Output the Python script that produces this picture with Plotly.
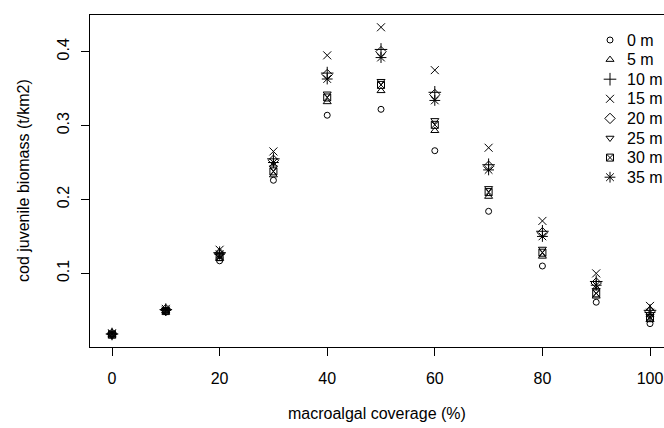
import plotly.graph_objects as go

coverage = [0, 10, 20, 30, 40, 50, 60, 70, 80, 90, 100]
depth_labels = ["0 m", "5 m", "10 m", "15 m", "20 m", "25 m", "30 m", "35 m"]

b_0m  = [0.017, 0.048, 0.117, 0.226, 0.314, 0.322, 0.266, 0.184, 0.110, 0.061, 0.032]
b_5m  = [0.017, 0.049, 0.120, 0.233, 0.332, 0.347, 0.293, 0.204, 0.123, 0.069, 0.037]
b_10m = [0.018, 0.051, 0.128, 0.255, 0.371, 0.403, 0.345, 0.247, 0.157, 0.089, 0.050]
b_15m = [0.019, 0.052, 0.132, 0.265, 0.395, 0.433, 0.375, 0.270, 0.171, 0.100, 0.056]
b_20m = [0.018, 0.051, 0.127, 0.253, 0.369, 0.400, 0.342, 0.245, 0.155, 0.087, 0.048]
b_25m = [0.018, 0.050, 0.124, 0.243, 0.343, 0.360, 0.307, 0.215, 0.133, 0.077, 0.042]
b_30m = [0.017, 0.049, 0.122, 0.238, 0.338, 0.355, 0.301, 0.210, 0.128, 0.073, 0.040]
b_35m = [0.018, 0.050, 0.126, 0.250, 0.363, 0.392, 0.334, 0.240, 0.150, 0.084, 0.047]

series = [b_0m, b_5m, b_10m, b_15m, b_20m, b_25m, b_30m, b_35m]
symbols = ["circle-open", "triangle-up-open", "cross-thin-open", "x-thin-open",
           "diamond-open", "triangle-down-open", "square-x-open", "asterisk-open"]
sizes = [6, 7, 9, 8, 8, 7, 7, 9]

W, H = 664, 428
L, T, B = 90, 15, 81
PW, PH = W - L, H - T - B

# legend layout (pixel coordinates on an overlay axis)
LEG_SYM_X, LEG_TXT_X, LEG_Y0, LEG_DY = 610, 625, 40, 19.6

font = dict(family="Liberation Sans, Arial, sans-serif", size=16, color="black")

fig = go.Figure()
annotations = []
for i, (name, vals, sym, sz) in enumerate(zip(depth_labels, series, symbols, sizes)):
    mk = dict(symbol=sym, size=sz, color="black", line=dict(color="black", width=1))
    fig.add_trace(go.Scatter(x=coverage, y=vals, mode="markers", name=name,
                             marker=mk, showlegend=False))
    ly = LEG_Y0 + LEG_DY * i
    fig.add_trace(go.Scatter(x=[LEG_SYM_X], y=[ly], mode="markers", name=name,
                             marker=mk, showlegend=False, hoverinfo="skip",
                             xaxis="x2", yaxis="y2", cliponaxis=False))
    annotations.append(dict(text=name, xref="x2", yref="y2", x=LEG_TXT_X, y=ly,
                            xanchor="left", yanchor="middle", showarrow=False,
                            font=font))

annotations += [
    dict(text="macroalgal coverage (%)", xref="paper", yref="paper",
         x=(377 - L) / PW, y=-(413 - (T + PH)) / PH, showarrow=False,
         xanchor="center", yanchor="middle", font=font),
    dict(text="cod juvenile biomass (t/km2)", xref="paper", yref="paper",
         x=-(L - 23) / PW, y=0.5, showarrow=False, textangle=-90,
         xanchor="center", yanchor="middle", font=font),
]

fig.update_layout(
    width=W, height=H,
    margin=dict(l=L, r=0, t=T, b=B),
    paper_bgcolor="white", plot_bgcolor="white",
    font=font,
    showlegend=False,
    xaxis=dict(range=[-4.09, 102.6], tickvals=[0, 20, 40, 60, 80, 100],
               showgrid=False, zeroline=False, showline=True, mirror=True,
               linecolor="black", linewidth=1, ticks="outside", ticklen=8,
               tickcolor="black", tickfont=font, ticklabelstandoff=9),
    yaxis=dict(range=[0.0004, 0.4496], tickvals=[0.1, 0.2, 0.3, 0.4],
               showgrid=False, zeroline=False, showline=True, mirror=False,
               linecolor="black", linewidth=1, ticks="outside", ticklen=8,
               tickcolor="black", tickangle=-90, tickfont=font,
               ticklabelstandoff=6),
    xaxis2=dict(overlaying="x", range=[L, W], visible=False, anchor="y2"),
    yaxis2=dict(overlaying="y", range=[T + PH, T], visible=False, anchor="x2"),
    annotations=annotations,
)

fig.write_html("out.html", config={"displayModeBar": False},
               post_script="document.body.style.margin='0';")
